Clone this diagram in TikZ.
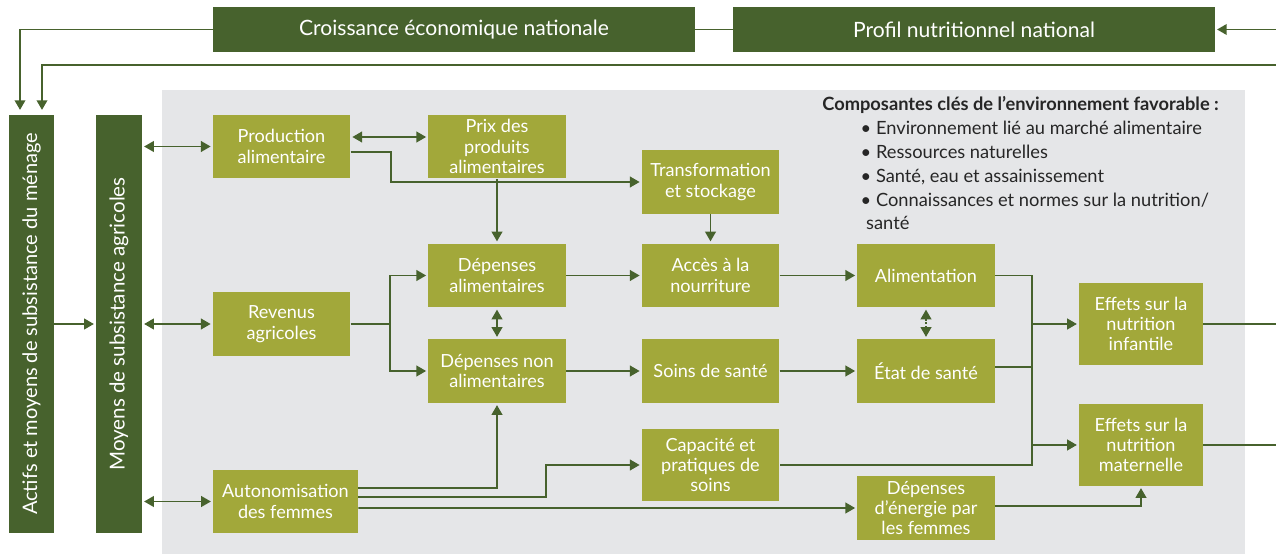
\documentclass[tikz,border=0pt]{standalone}
\usepackage{fontspec}
\setmainfont{Lato}
\usetikzlibrary{positioning,arrows.meta}
\definecolor{foret}{RGB}{71,98,45}
\definecolor{olivier}{RGB}{162,168,58}
\definecolor{fond}{RGB}{229,230,232}
\tikzset{
  boite/.style = {fill=olivier, text=white, align=center, inner sep=0pt,
    minimum width=2.75cm, minimum height=1.28cm, font=\fontsize{10.3}{11.6}\selectfont},
  bande/.style = {fill=foret, text=white, inner sep=0pt, font=\fontsize{12}{14}\selectfont},
  trait/.style = {draw=foret, line width=1.1pt},
  fl/.style = {trait, -{Triangle[length=5.5pt,width=6pt]}, shorten >=1pt},
  dfl/.style = {trait, {Triangle[length=5.5pt,width=6pt]}-{Triangle[length=5.5pt,width=6pt]}, shorten >=1pt, shorten <=1pt},
}
\begin{document}
\begin{tikzpicture}[x=0.02cm, y=-0.02cm]
\useasboundingbox (0,0) rectangle (1276,554);
\fill[fond] (162,90) rectangle (1245,554);

% bandes du haut et de gauche
\node[bande, minimum width=9.64cm, minimum height=0.9cm] (croiss) at (454,29.5) {Croissance économique nationale};
\node[bande, minimum width=9.64cm, minimum height=0.9cm] (profil) at (974,29.5) {Profil nutritionnel national};
\node[bande, rotate=90, minimum width=8.36cm, minimum height=0.9cm, font=\fontsize{11.4}{14}\selectfont] (actifs) at (31.5,324) {Actifs et moyens de subsistance du ménage};
\node[bande, rotate=90, minimum width=8.36cm, minimum height=0.92cm, font=\fontsize{11.7}{14}\selectfont] (moyens) at (119,324) {Moyens de subsistance agricoles};
\coordinate (pin) at (1276,29.5);
\coordinate (rin) at (1276,65);

% boites
\node[boite] (prod) at (281.5,146.5) {Production\\alimentaire};
\node[boite] (prix) at (497,146.5) {Prix des\\produits\\alimentaires};
\node[boite] (transf) at (710.5,182) {Transformation\\et stockage};
\node[boite] (revenus) at (281.5,324) {Revenus\\agricoles};
\node[boite] (depal) at (497,275.5) {Dépenses\\alimentaires};
\node[boite] (acces) at (710.5,275.5) {Accès à la\\nourriture};
\node[boite] (alim) at (926,275.5) {Alimentation};
\node[boite] (depnon) at (497,371) {Dépenses non\\alimentaires};
\node[boite] (soins) at (710.5,371) {Soins de santé};
\node[boite] (etat) at (926,371) {État de santé};
\node[boite, minimum width=2.9cm] (autono) at (285.5,501.5) {Autonomisation\\des femmes};
\node[boite, minimum height=1.44cm] (capac) at (710.5,465) {Capacité et\\pratiques de\\soins};
\node[boite] (energie) at (926,508) {Dépenses\\d’énergie par\\les femmes};
\node[boite, minimum width=2.48cm, minimum height=1.64cm] (effinf) at (1141,324) {Effets sur la\\nutrition\\infantile};
\node[boite, minimum width=2.48cm, minimum height=1.64cm] (effmat) at (1141,445) {Effets sur la\\nutrition\\maternelle};
\coordinate (sinf) at (1276,324);
\coordinate (smat) at (1276,445);

\node[anchor=north west, align=left, inner sep=0pt, text=black!85,
  font=\fontsize{10.4}{13.6}\selectfont] (cles) at (822,96)
  {\textbf{Composantes clés de l’environnement favorable :}\\
   \hspace*{2.1em}\textbullet\ Environnement lié au marché alimentaire\\
   \hspace*{2.1em}\textbullet\ Ressources naturelles\\
   \hspace*{2.1em}\textbullet\ Santé, eau et assainissement\\
   \hspace*{2.1em}\textbullet\ Connaissances et normes sur la nutrition/\\
   \hspace*{2.4em}santé};

% liens
\draw[fl] (croiss.west) -| ([xshift=-0.23cm,yshift=0.06cm]actifs.east);
\draw[fl] (rin) -| ([xshift=0.21cm,yshift=0.06cm]actifs.east);
\draw[trait] (croiss.east) -- (profil.west);
\draw[fl] (pin) -- (profil.east);
\draw[fl] (actifs.south) -- (moyens.north);
\draw[dfl] (moyens.south |- prod.west) -- (prod.west);
\draw[dfl] (moyens.south |- revenus.west) -- (revenus.west);
\draw[dfl] (moyens.south |- autono.west) -- (autono.west);
\draw[dfl] ([yshift=0.19cm]prod.east) -- ([yshift=0.19cm]prix.west);
\draw[fl] ([yshift=-0.11cm]prod.east) -- ++(40,0) |- (transf.west);
\draw[fl] (prix.south) -- (depal.north);
\draw[fl] (transf.south) -- (acces.north);
\draw[fl] (revenus.east) -- ++(39,0) coordinate (rv) |- (depal.west);
\draw[fl] (rv) |- (depnon.west);
\draw[fl] (depal) -- (acces);
\draw[fl] (acces) -- (alim);
\draw[fl] (depnon) -- (soins);
\draw[fl] (soins) -- (etat);
\draw[dfl] (depal) -- (depnon);
\draw[dfl, densely dotted] (alim) -- (etat);
\draw[trait] (alim.east) -- ++(37,0) coordinate (jn) |- (capac.east);
\draw[trait] ([yshift=0.08cm]etat.east) -- ([yshift=0.08cm]etat.east -| jn);
\draw[fl] (jn |- effinf.west) -- (effinf.west);
\draw[fl] (jn |- effmat.west) -- (effmat.west);
\draw[trait] (effinf.east) -- (sinf);
\draw[trait] (effmat.east) -- (smat);
\draw[fl] ([yshift=0.27cm]autono.east) -| (depnon.south);
\draw[fl] ([yshift=0.09cm]autono.east) -- ++(188,0) |- (capac.west);
\draw[fl] ([yshift=-0.13cm]autono.east) -- (energie.west);
\draw[fl] ([yshift=0.04cm]energie.east) -| (effmat.south);
\end{tikzpicture}
\end{document}
